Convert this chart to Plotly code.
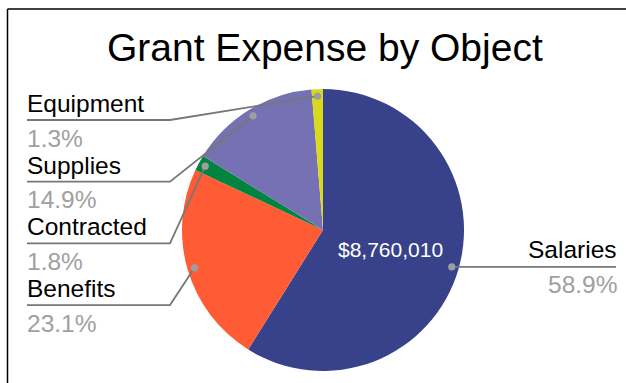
import math
import plotly.graph_objects as go

# Grant expense by object (dollars)
categories = ["Salaries", "Benefits", "Contracted", "Supplies", "Equipment"]
amounts = [8760010, 3436000, 268000, 2216000, 193000]
colors = ["#37428A", "#FF5C35", "#00843F", "#7571B3", "#DADA1D"]

W, H = 626, 383
FONT = "Liberation Sans, Arial, sans-serif"

# pie placement in pixels
cx, cy, R = 323, 230, 141


def px(x):
    return x / W


def py(y):
    return 1 - y / H


total = sum(amounts)
shares = [a / total for a in amounts]

fig = go.Figure()
fig.add_trace(go.Pie(
    labels=categories,
    values=amounts,
    sort=False,
    direction="clockwise",
    rotation=0,
    marker=dict(colors=colors, line=dict(width=0)),
    textinfo="none",
    hoverinfo="label+value+percent",
    showlegend=False,
    domain=dict(x=[px(cx - R), px(cx + R)], y=[py(cy + R), py(cy - R)]),
))

shapes = []
annotations = []

# anchor point of each slice: middle angle, just inside the rim
cum = 0.0
anchors = []
for s in shares:
    mid = (cum + s / 2) * 2 * math.pi
    cum += s
    r = 0.95 * R
    anchors.append((cx + r * math.sin(mid), cy - r * math.cos(mid), mid))

LINE = "#777777"
DOT = "#9E9E9E"
PCT = "#A0A0A0"
LABEL_SIZE = 24.5

# left-hand label slots (y of the underline), top to bottom
left_order = ["Equipment", "Supplies", "Contracted", "Benefits"]
slot_y0, slot_step = 120, 61.7
x_left, x_knee = 27, 170
x_text_left = 24.5

for k, name in enumerate(left_order):
    i = categories.index(name)
    ax, ay, _ = anchors[i]
    ly = slot_y0 + k * slot_step
    shapes.append(dict(
        type="path", xref="paper", yref="paper",
        path=f"M {px(x_left)} {py(ly)} L {px(x_knee)} {py(ly)} L {px(ax)} {py(ay)}",
        line=dict(color=LINE, width=1.8), layer="above"))
    annotations.append(dict(
        x=px(x_text_left), y=py(ly - 16.5), xref="paper", yref="paper",
        xanchor="left", yanchor="middle", showarrow=False,
        text=name, font=dict(family=FONT, size=LABEL_SIZE, color="#000000")))
    annotations.append(dict(
        x=px(x_text_left), y=py(ly + 18), xref="paper", yref="paper",
        xanchor="left", yanchor="middle", showarrow=False,
        text=f"{shares[i] * 100:.1f}%", font=dict(family=FONT, size=LABEL_SIZE, color=PCT)))

# right-hand label for the largest slice
i = categories.index("Salaries")
ax, ay, mid = anchors[i]
x_right = 616
shapes.append(dict(
    type="path", xref="paper", yref="paper",
    path=f"M {px(ax)} {py(ay)} L {px(x_right)} {py(ay)}",
    line=dict(color=LINE, width=1.8), layer="above"))
annotations.append(dict(
    x=px(x_right + 2.5), y=py(ay - 17.5), xref="paper", yref="paper",
    xanchor="right", yanchor="middle", showarrow=False,
    text="Salaries", font=dict(family=FONT, size=LABEL_SIZE, color="#000000")))
annotations.append(dict(
    x=px(x_right + 2.5), y=py(ay + 17.5), xref="paper", yref="paper",
    xanchor="right", yanchor="middle", showarrow=False,
    text=f"{shares[i] * 100:.1f}%", font=dict(family=FONT, size=LABEL_SIZE, color=PCT)))

# value shown inside the largest slice, half way out along its middle angle
vx = cx + 0.5 * R * math.sin(mid)
vy = cy - 0.5 * R * math.cos(mid)
annotations.append(dict(
    x=px(vx), y=py(vy), xref="paper", yref="paper",
    xanchor="center", yanchor="middle", showarrow=False,
    text=f"${amounts[i]:,}", font=dict(family=FONT, size=21, color="#FFFFFF")))

# dots on the slices
for ax, ay, _ in anchors:
    r = 3.6
    shapes.append(dict(
        type="circle", xref="paper", yref="paper",
        x0=px(ax - r), x1=px(ax + r), y0=py(ay + r), y1=py(ay - r),
        fillcolor=DOT, line=dict(width=0), layer="above"))

# frame edges
shapes.append(dict(type="line", xref="paper", yref="paper",
                   x0=px(7.5), x1=1, y0=py(9), y1=py(9),
                   line=dict(color="#000000", width=1.5), layer="above"))
shapes.append(dict(type="line", xref="paper", yref="paper",
                   x0=px(7.5), x1=px(7.5), y0=py(9), y1=0,
                   line=dict(color="#000000", width=1.5), layer="above"))

# title
annotations.append(dict(
    x=px(325), y=py(47), xref="paper", yref="paper",
    xanchor="center", yanchor="middle", showarrow=False,
    text="Grant Expense by Object", font=dict(family=FONT, size=39, color="#000000")))

fig.update_layout(
    width=W, height=H,
    margin=dict(l=0, r=0, t=0, b=0),
    paper_bgcolor="#FFFFFF",
    plot_bgcolor="#FFFFFF",
    shapes=shapes,
    annotations=annotations,
)

fig.write_html("out.html", config={"displayModeBar": False})
